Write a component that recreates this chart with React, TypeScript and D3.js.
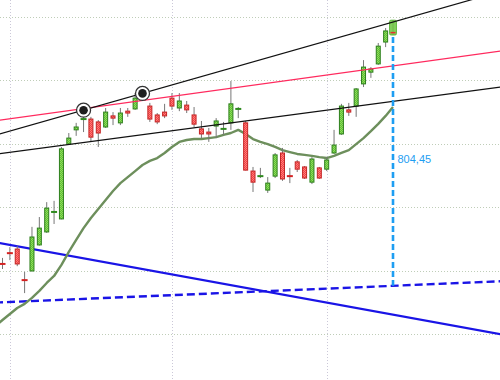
import React from "react";
import * as d3 from "d3";

const W = 500;
const H = 380;

const opens = [3222,3256,3268,3171,3199,3281,3322,3384,3363,3599,3644,3677,3678,3669,3653,3688,3666,3703,3710,3757,3719,3691,3700,3744,3713,3722,3691,3647,3637,3656,3646,3666,3709,3666,3514,3497,3454,3498,3571,3499,3543,3527,3479,3524,3520,3571,3631,3707,3719,3789,3826,3852,3921,3953];
const highs = [3240,3274,3278,3196,3338,3369,3416,3420,3590,3634,3666,3697,3685,3675,3713,3700,3713,3713,3760,3765,3729,3697,3726,3760,3760,3735,3716,3672,3650,3681,3669,3798,3716,3672,3527,3524,3495,3571,3587,3524,3549,3530,3558,3527,3558,3644,3726,3729,3776,3864,3842,3918,3965,3990];
const lows = [3205,3233,3214,3129,3197,3279,3319,3347,3362,3598,3625,3637,3606,3590,3650,3659,3659,3685,3707,3745,3669,3662,3681,3707,3703,3697,3653,3618,3606,3618,3628,3644,3681,3516,3448,3492,3445,3492,3483,3476,3511,3489,3473,3489,3514,3568,3628,3688,3685,3779,3808,3849,3905,3943];
const closes = [3220,3254,3221,3169,3306,3334,3397,3386,3584,3618,3653,3679,3621,3634,3700,3681,3697,3697,3744,3750,3678,3669,3688,3719,3735,3707,3662,3631,3631,3672,3648,3726,3711,3517,3479,3499,3476,3565,3489,3497,3520,3492,3552,3492,3549,3596,3719,3700,3773,3842,3836,3908,3956,3950];

// moving average, starting one bar before the first visible candle
const maStart = -1;
const maValues = [3025,3044,3063,3082,3095,3114,3136,3161,3183,3218,3259,3297,3334,3366,3394,3423,3451,3476,3495,3514,3533,3546,3555,3571,3590,3606,3612,3615,3615,3618,3621,3628,3634,3644,3631,3615,3606,3599,3590,3580,3574,3568,3565,3562,3558,3555,3562,3571,3580,3599,3618,3640,3663,3688,3716];

const gridPrices = [3000, 3200, 3400, 3600, 3800, 4000];
const gridBars = [1, 23, 44];

// trend lines: [bar, price] anchor pairs
const upperChannel = [[11, 3706], [53, 3984]];
const redLine = [[0, 3676], [53, 3846]];
const lowerChannel = [[0, 3570], [53, 3734]];
const blueLine = [[0, 3285], [53, 3061]];
const blueDashed = [[0, 3100], [53, 3152]];
const anchorBars = [11, 19];

const measureBar = 53;
const measureLabel = "804,45";

export default function App() {
  const x = d3.scaleLinear().domain([0, 53]).range([2.5, 393]);
  const y = d3.scaleLinear().domain([2854.9, 4053.6]).range([H, 0]);

  const lineAt = (pts: number[][], i: number) => {
    const [[i1, p1], [i2, p2]] = pts;
    return p1 + ((p2 - p1) * (i - i1)) / (i2 - i1);
  };
  const fullLine = (pts: number[][]) => {
    const i0 = x.invert(-5);
    const i1 = x.invert(W + 5);
    return { x1: -5, y1: y(lineAt(pts, i0)), x2: W + 5, y2: y(lineAt(pts, i1)) };
  };

  const maLine = d3
    .line<number>()
    .x((_, i) => x(i + maStart))
    .y((d) => y(d));

  const last = opens.length - 1;
  const measureTop = y(lows[measureBar]);
  const measureBottom = y(lineAt(blueDashed, measureBar));

  const candles = opens.map((o, i) => {
    const c = closes[i];
    const up = c >= o;
    const cx = x(i);
    const isDoji = Math.abs(c - o) < 4;
    const top = y(Math.max(o, c));
    const bot = y(Math.min(o, c));
    if (i === last) {
      return (
        <g key={i}>
          <line x1={cx} x2={cx} y1={y(highs[i])} y2={y(lows[i])} stroke="#777" strokeWidth={1} />
          <rect x={cx - 3.5} y={y(highs[i])} width={7} height={y(lows[i]) - y(highs[i])} rx={1.5} fill="#6cc53e" fillOpacity={0.85} stroke="#4fae2a" strokeWidth={0.8} />
          <rect x={cx - 2.5} y={top} width={5} height={Math.max(1.5, bot - top)} fill="#e83030" />
        </g>
      );
    }
    return (
      <g key={i}>
        <line x1={cx} x2={cx} y1={y(highs[i])} y2={y(lows[i])} stroke="#777" strokeWidth={1} />
        {isDoji ? (
          <line x1={cx - 3} x2={cx + 3} y1={(top + bot) / 2} y2={(top + bot) / 2} stroke={up ? "#2e8a1e" : "#d42222"} strokeWidth={2} />
        ) : (
          <rect
            x={cx - 2}
            y={top}
            width={4}
            height={Math.max(1, bot - top)}
            fill={up ? "url(#gpat)" : "url(#rpat)"}
            stroke={up ? "#2d7f1c" : "#c42424"}
            strokeWidth={1}
          />
        )}
      </g>
    );
  });

  const l1 = fullLine(upperChannel);
  const l2 = fullLine(redLine);
  const l3 = fullLine(lowerChannel);
  const l4 = fullLine(blueLine);
  const l5 = fullLine(blueDashed);

  return (
    <svg
      width={W}
      height={H}
      style={{ position: "absolute", left: 0, top: 0, background: "#fff" }}
      shapeRendering="auto"
    >
      <defs>
        <pattern id="gpat" width={2} height={2} patternUnits="userSpaceOnUse">
          <rect width={2} height={2} fill="#5fbf35" />
          <rect width={1} height={1} fill="#8fdc5c" />
          <rect x={1} y={1} width={1} height={1} fill="#8fdc5c" />
        </pattern>
        <pattern id="rpat" width={2} height={2} patternUnits="userSpaceOnUse">
          <rect width={2} height={2} fill="#f04444" />
          <rect width={1} height={1} fill="#ff7a7a" />
          <rect x={1} y={1} width={1} height={1} fill="#ff7a7a" />
        </pattern>
      </defs>
      <rect width={W} height={H} fill="#fff" />
      {gridPrices.map((p) => (
        <line key={p} x1={0} x2={W} y1={Math.round(y(p)) + 0.5} y2={Math.round(y(p)) + 0.5} stroke="#bfcdb8" strokeWidth={1} strokeDasharray="1,2" />
      ))}
      {gridBars.map((b) => (
        <line key={b} x1={Math.round(x(b)) + 0.5} x2={Math.round(x(b)) + 0.5} y1={0} y2={H} stroke="#cbc8d8" strokeWidth={1} strokeDasharray="1,2" />
      ))}

      <line {...l4} stroke="#1a14e6" strokeWidth={2.2} />
      <line {...l5} stroke="#1a14e6" strokeWidth={2.4} strokeDasharray="8,4" />

      <path d={maLine(maValues) || ""} fill="none" stroke="#6d8f5c" strokeWidth={2.4} strokeLinejoin="round" />

      {candles}

      <line {...l3} stroke="#111" strokeWidth={1.2} />
      <line {...l2} stroke="#ff2a5e" strokeWidth={1.2} />
      <line {...l1} stroke="#111" strokeWidth={1.2} />

      {anchorBars.map((b) => (
        <g key={b}>
          <circle cx={x(b)} cy={y(lineAt(upperChannel, b))} r={7} fill="#fff" stroke="#333" strokeWidth={1.3} />
          <circle cx={x(b)} cy={y(lineAt(upperChannel, b))} r={4.3} fill="#1e1e1e" />
        </g>
      ))}

      <line
        x1={x(measureBar)}
        x2={x(measureBar)}
        y1={measureTop + 2}
        y2={measureBottom}
        stroke="#1e9ef2"
        strokeWidth={2.6}
        strokeDasharray="6,3"
      />
      <text
        x={x(measureBar) + 4.5}
        y={(measureTop + measureBottom) / 2 + 3}
        fontFamily="'Liberation Sans', Arial, sans-serif"
        fontSize={11}
        fill="#1e9ef2"
      >
        {measureLabel}
      </text>
    </svg>
  );
}
